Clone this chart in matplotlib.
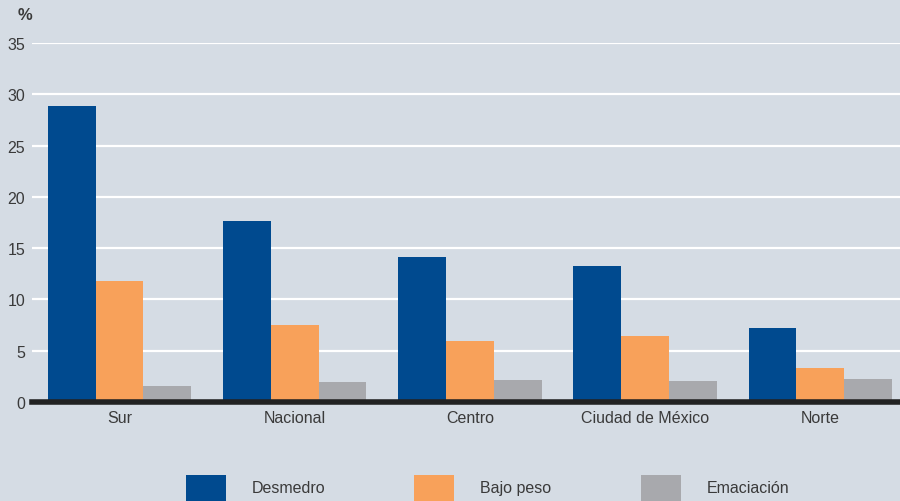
import matplotlib
matplotlib.use("Agg")
import matplotlib.pyplot as plt
import numpy as np
from matplotlib.patches import Rectangle

categories = ["Sur", "Nacional", "Centro", "Ciudad de México", "Norte"]
series_names = ["Desmedro", "Bajo peso", "Emaciación"]
desmedro = [28.9, 17.6, 14.1, 13.25, 7.2]
bajo_peso = [11.8, 7.5, 5.95, 6.45, 3.3]
emaciacion = [1.6, 1.95, 2.15, 2.05, 2.25]
yticks = [0, 5, 10, 15, 20, 25, 30, 35]

colors = ["#004a8f", "#f8a15a", "#a8a9ad"]
bg = "#d5dce4"
txt = "#3a3a3a"

plt.rcParams['font.family'] = ['Liberation Sans', 'DejaVu Sans']
fs = 11.5

fig = plt.figure(figsize=(9, 5.02), dpi=100)
fig.patch.set_facecolor(bg)
ax = fig.add_axes([32/900, (502-403)/502, 1-32/900, (403-44)/502])
ax.set_facecolor(bg)

x = np.arange(len(categories))
w = 0.273
for i, (vals, c) in enumerate(zip([desmedro, bajo_peso, emaciacion], colors)):
    ax.bar(x + (i - 1) * w, vals, width=w, color=c, zorder=3)

ax.set_ylim(0, 35)
ax.set_xlim(-0.5, 4.455)
ax.set_yticks(yticks)
ax.set_yticklabels([str(t) for t in yticks], fontsize=fs, color=txt)
ax.set_xticks(x)
ax.set_xticklabels(categories, fontsize=fs, color=txt)
ax.tick_params(axis='both', length=0)
ax.tick_params(axis='y', pad=5)
ax.tick_params(axis='x', pad=6)
ax.yaxis.grid(True, color="white", linewidth=1.6, zorder=0)
ax.set_axisbelow(True)
for s in ["top", "right", "left"]:
    ax.spines[s].set_visible(False)
ax.spines["bottom"].set_color("#222222")
ax.spines["bottom"].set_linewidth(4)
ax.spines["bottom"].set_zorder(5)

fig.text(18/900, 1 - 16/502, "%", fontsize=12, fontweight="bold", color=txt, va="center", ha="left")

# legend
legend_x = [186, 414, 641]
for name, c, lx in zip(series_names, colors, legend_x):
    fig.add_artist(Rectangle((lx/900, 0), 40/900, 26/502, transform=fig.transFigure,
                             facecolor=c, edgecolor="none"))
    fig.text((lx + 66)/900, 1 - 489/502, name, fontsize=fs, color=txt, va="center", ha="left")

fig.savefig("out.png", dpi=100, facecolor=bg)
